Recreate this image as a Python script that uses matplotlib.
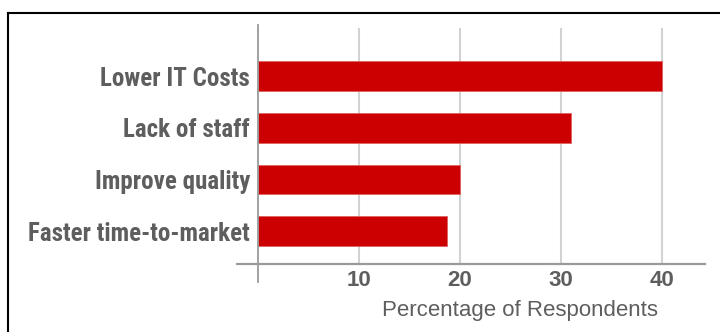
import matplotlib
matplotlib.use("Agg")
import matplotlib.pyplot as plt
from matplotlib.lines import Line2D

categories = ["Lower IT Costs", "Lack of staff", "Improve quality", "Faster time-to-market"]
values = [40, 31, 20, 18.7]
xticks = [10, 20, 30, 40]
xlabel = "Percentage of Respondents"

W, H = 720, 332
fig = plt.figure(figsize=(W / 100, H / 100), dpi=100, facecolor="white")

# axes placement in pixels
ax_l, ax_r, ax_t, ax_b = 237, 705, 22, 264
ax = fig.add_axes([ax_l / W, (H - ax_b) / H, (ax_r - ax_l) / W, (ax_b - ax_t) / H])
ax.set_facecolor("none")

ypos = list(range(len(categories)))
ax.barh(ypos, values, height=0.576, color="#CC0000", edgecolor="#e06060", linewidth=0.6, zorder=3)

ax.set_xlim(-2.08, 44.31)
ax.set_ylim(3.637, -1.053)

for s in ax.spines.values():
    s.set_visible(False)

# gridlines
for t in xticks:
    ax.axvline(t, ymin=0, ymax=0.971, color="#d2d2d2", linewidth=1.5, zorder=1)
# zero line
ax.axvline(0, ymin=-0.074, ymax=0.988, color="#9a9a9a", linewidth=1.3, zorder=4, clip_on=False)
# horizontal axis line
ax.axhline(3.637, xmin=0, xmax=1, color="#9a9a9a", linewidth=1.6, zorder=4, clip_on=False)

text_color = "#5e5e5e"
cond = ["Roboto Condensed", "PT Sans Narrow", "Liberation Sans", "DejaVu Sans"]
ax.set_xticks(xticks)
ax.set_xticklabels([str(t) for t in xticks], fontsize=16, fontweight="bold",
                   color=text_color, family=["Liberation Sans", "DejaVu Sans"])
ax.tick_params(axis="x", length=0, pad=4)

ax.set_yticks(ypos)
ax.set_yticklabels(categories, fontsize=18, fontweight="bold", color=text_color, family=cond)
ax.tick_params(axis="y", length=0, pad=-9.4)

ax.set_xlabel(xlabel, fontsize=16, color=text_color, family=["Liberation Sans", "DejaVu Sans"])
ax.xaxis.set_label_coords((519.5 - ax_l) / (ax_r - ax_l), -0.149)

# frame (top and left edges)
fig.add_artist(Line2D([7.5 / W, 1.0], [1 - 13 / H, 1 - 13 / H], transform=fig.transFigure,
                      color="black", linewidth=1.5, solid_capstyle="projecting"))
fig.add_artist(Line2D([7.5 / W, 7.5 / W], [0, 1 - 13 / H], transform=fig.transFigure,
                      color="black", linewidth=1.5, solid_capstyle="projecting"))

fig.savefig("out.png", dpi=100, facecolor="white")
